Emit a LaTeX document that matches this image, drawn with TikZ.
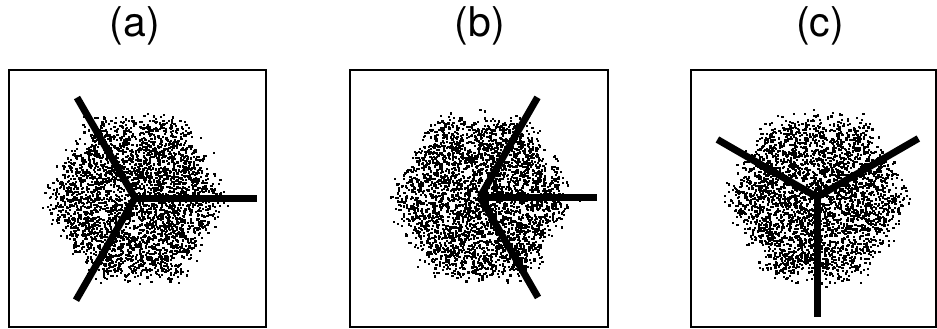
\documentclass[tikz,border=0pt]{standalone}
\usepackage{fontspec}
\setmainfont{TeX Gyre Heros}
\usetikzlibrary{calc}

% random dots filling a hexagon round the current origin
\newcommand{\dotcloud}[2]{%
  \begin{scope}[shift={(#1)}]
  \foreach \i in {1,...,#2}{
    \pgfmathsetmacro{\ang}{120*int(3*rnd)}
    \pgfmathsetmacro{\ru}{rnd}
    \pgfmathsetmacro{\rv}{rnd}
    \pgfmathsetmacro{\px}{86*(\ru*cos(\ang)+\rv*cos(\ang+120))+8*(rand+rand)}
    \pgfmathsetmacro{\py}{86*(\ru*sin(\ang)+\rv*sin(\ang+120))+8*(rand+rand)}
    \fill[speck] (\px,\py) rectangle ++(2.2,2.2);
  }
  \end{scope}}

\begin{document}
\begin{tikzpicture}[
    x=1pt, y=-1pt,
    panel/.style={draw=black, line width=2pt, minimum height=257pt, inner sep=0pt},
    arm/.style={draw=black, line width=7pt},
    lab/.style={font=\fontsize{41}{44}\selectfont, inner sep=0pt},
    speck/.style={fill=black}
]
\useasboundingbox (0,0) rectangle (937,329);
\pgfmathsetseed{4711}

% Panels
\node (boxa) [panel, minimum width=257pt] at (137.5,198.5) {};
\node (boxb) [panel, minimum width=258pt] at (479,198.5) {};
\node (boxc) [panel, minimum width=245pt] at (813.5,198.5) {};

% Labels
\node (la) [lab] at (135,26) {(a)};
\node (lb) [lab] at (480,26) {(b)};
\node (lc) [lab] at (820,26) {(c)};

% Centres
\coordinate (ca) at (135,198);
\coordinate (cb) at (480,197);
\coordinate (cc) at (817,197);

% Clouds
\dotcloud{ca}{3300}
\dotcloud{cb}{3300}
\dotcloud{cc}{3300}

% Arms
\draw [arm] (ca) -- ++(0:122);
\draw [arm] (ca) -- ++(240:116);
\draw [arm] (ca) -- ++(120:118);

\draw [arm] (cb) -- ++(0:117);
\draw [arm] (cb) -- ++(300:115);
\draw [arm] (cb) -- ++(60:116);

\draw [arm] (cc) -- ++(210:115);
\draw [arm] (cc) -- ++(330:117);
\draw [arm] (cc) -- ++(90:120);

\end{tikzpicture}
\end{document}
